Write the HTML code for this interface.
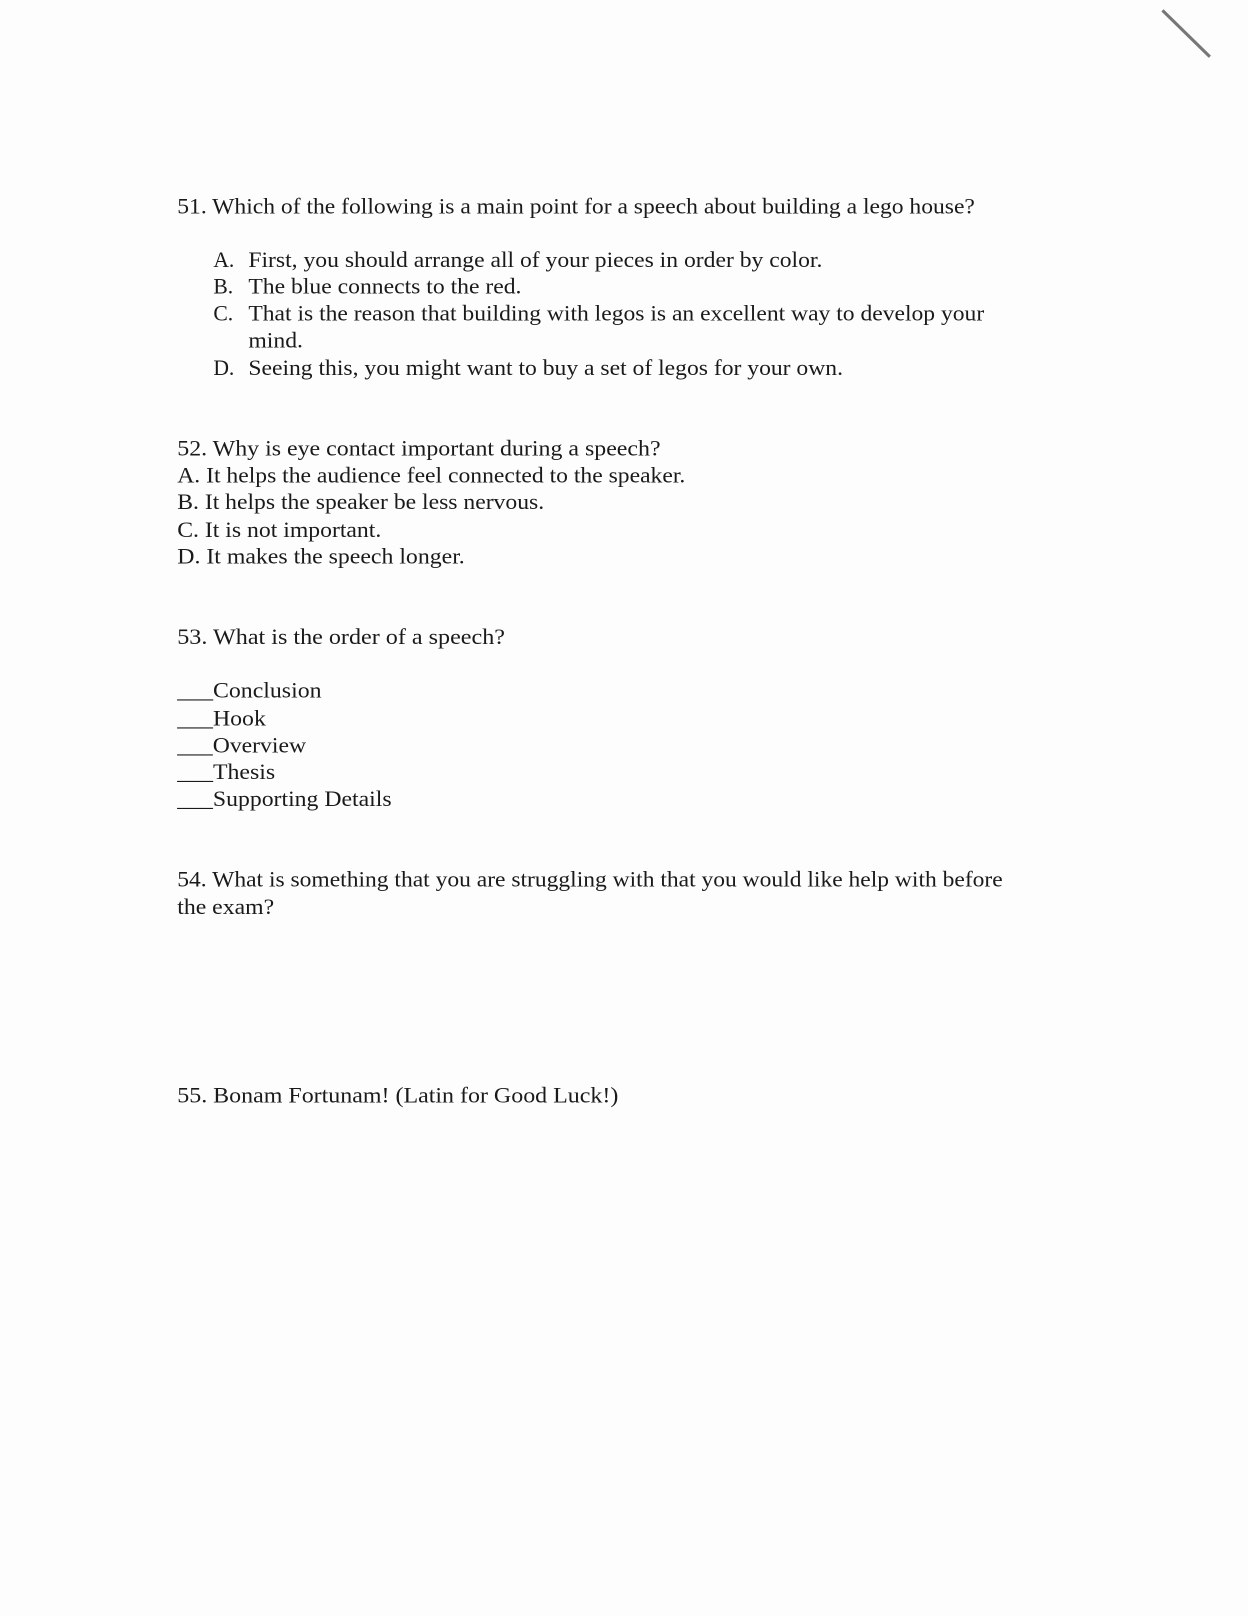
<!DOCTYPE html>
<html><head><meta charset="utf-8"><style>
html,body{margin:0;padding:0;background:#fff;}
svg{display:block;}
text{font-family:"Liberation Serif",serif;font-size:21px;fill:#1a1a1a;}
</style></head><body>
<svg width="1248" height="1616" viewBox="0 0 1211 1568" xmlns="http://www.w3.org/2000/svg">
<rect width="1211" height="1568" fill="#fdfdfd"/>
<line x1="1128" y1="10" x2="1174" y2="55" stroke="#777" stroke-width="3"/>
<text x="172" y="207" textLength="774" lengthAdjust="spacingAndGlyphs">51. Which of the following is a main point for a speech about building a lego house?</text>
<text x="207" y="259">A.</text>
<text x="241" y="259" textLength="557" lengthAdjust="spacingAndGlyphs">First, you should arrange all of your pieces in order by color.</text>
<text x="207" y="285">B.</text>
<text x="241" y="285" textLength="265" lengthAdjust="spacingAndGlyphs">The blue connects to the red.</text>
<text x="207" y="311">C.</text>
<text x="241" y="311" textLength="714" lengthAdjust="spacingAndGlyphs">That is the reason that building with legos is an excellent way to develop your</text>
<text x="241" y="337" textLength="53" lengthAdjust="spacingAndGlyphs">mind.</text>
<text x="207" y="364">D.</text>
<text x="241" y="364" textLength="577" lengthAdjust="spacingAndGlyphs">Seeing this, you might want to buy a set of legos for your own.</text>
<text x="172" y="442" textLength="469" lengthAdjust="spacingAndGlyphs">52.  Why is eye contact important during a speech?</text>
<text x="172" y="468" textLength="493" lengthAdjust="spacingAndGlyphs">A. It helps the audience feel connected to the speaker.</text>
<text x="172" y="494" textLength="356" lengthAdjust="spacingAndGlyphs">B. It helps the speaker be less nervous.</text>
<text x="172" y="521" textLength="198" lengthAdjust="spacingAndGlyphs">C. It is not important.</text>
<text x="172" y="547" textLength="279" lengthAdjust="spacingAndGlyphs">D. It makes the speech longer.</text>
<text x="172" y="625" textLength="318" lengthAdjust="spacingAndGlyphs">53.  What is the order of a speech?</text>
<text x="172" y="677" textLength="140" lengthAdjust="spacingAndGlyphs">___Conclusion</text>
<text x="172" y="704" textLength="86" lengthAdjust="spacingAndGlyphs">___Hook</text>
<text x="172" y="730" textLength="125" lengthAdjust="spacingAndGlyphs">___Overview</text>
<text x="172" y="756" textLength="95" lengthAdjust="spacingAndGlyphs">___Thesis</text>
<text x="172" y="782" textLength="208" lengthAdjust="spacingAndGlyphs">___Supporting Details</text>
<text x="172" y="860" textLength="801" lengthAdjust="spacingAndGlyphs">54. What is something that you are struggling with that you would like help with before</text>
<text x="172" y="887" textLength="94" lengthAdjust="spacingAndGlyphs">the exam?</text>
<text x="172" y="1070" textLength="428" lengthAdjust="spacingAndGlyphs">55. Bonam Fortunam!  (Latin for Good Luck!)</text>
</svg>
</body></html>
